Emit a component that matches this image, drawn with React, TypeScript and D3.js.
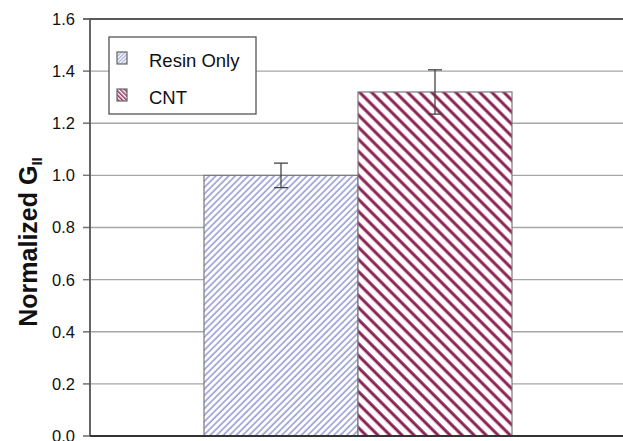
import React from "react";
import * as d3 from "d3";

const categories = ["Resin Only", "CNT"];
const values = [1.0, 1.32];
const errors = [0.047, 0.085];
const yTicks = [0, 0.2, 0.4, 0.6, 0.8, 1.0, 1.2, 1.4, 1.6];

const W = 623, H = 441;
const left = 90, top = 19, bottom = 436, right = 623;

export default function App() {
  const y = d3.scaleLinear().domain([0, 1.6]).range([bottom, top]);
  const x = d3.scaleBand().domain(categories).range([204, 512]).paddingInner(0).paddingOuter(0);
  const patIds = ["patResin", "patCNT"];
  return (
    <svg width={W} height={H} style={{ position: "absolute", left: 0, top: 0, background: "#fff" }}
      fontFamily="Liberation Sans, Arial, sans-serif">
      <defs>
        <pattern id="patResin" patternUnits="userSpaceOnUse" width={4.6} height={10} patternTransform="rotate(45)">
          <rect width={4.6} height={10} fill="#fff" />
          <line x1={1} y1={0} x2={1} y2={10} stroke="#9a9ed6" strokeWidth={1.6} />
        </pattern>
        <pattern id="patCNT" patternUnits="userSpaceOnUse" width={8.5} height={10} patternTransform="rotate(-45)">
          <rect width={8.5} height={10} fill="#fff" />
          <line x1={2} y1={0} x2={2} y2={10} stroke="#8c1f52" strokeWidth={3} />
        </pattern>
        <pattern id="patResinS" patternUnits="userSpaceOnUse" width={2.6} height={10} patternTransform="rotate(45)">
          <rect width={2.6} height={10} fill="#fff" />
          <line x1={0.7} y1={0} x2={0.7} y2={10} stroke="#9a9ed6" strokeWidth={1.1} />
        </pattern>
        <pattern id="patCNTS" patternUnits="userSpaceOnUse" width={3} height={10} patternTransform="rotate(-45)">
          <rect width={3} height={10} fill="#fff" />
          <line x1={0.8} y1={0} x2={0.8} y2={10} stroke="#8c1f52" strokeWidth={1.4} />
        </pattern>
      </defs>
      {/* gridlines */}
      {yTicks.map((t) => (
        <g key={t}>
          <line x1={left - 7} x2={right} y1={y(t)} y2={y(t)}
            stroke={t === 1.6 ? "#222" : "#a6a6a6"} strokeWidth={t === 1.6 ? 1.5 : 1.3} />
          <text x={75} y={y(t)} dy="0.36em" textAnchor="end" fontSize={16.5} fill="#111">{t.toFixed(1)}</text>
        </g>
      ))}
      {/* tick marks over axis */}
      {yTicks.map((t) => (
        <line key={"tk" + t} x1={left - 7} x2={left} y1={y(t)} y2={y(t)} stroke="#777" strokeWidth={1.3} />
      ))}
      {/* bars */}
      {categories.map((c, i) => (
        <rect key={c} x={x(c)!} y={y(values[i])} width={x.bandwidth()} height={y(0) - y(values[i])}
          fill={`url(#${patIds[i]})`} stroke="#7a7a7a" strokeWidth={1.2} />
      ))}
      {/* error bars */}
      {categories.map((c, i) => {
        const cx = x(c)! + x.bandwidth() / 2;
        return (
          <g key={"e" + c} stroke="#444" strokeWidth={1.3}>
            <line x1={cx} x2={cx} y1={y(values[i] + errors[i])} y2={y(values[i] - errors[i])} />
            <line x1={cx - 7} x2={cx + 7} y1={y(values[i] + errors[i])} y2={y(values[i] + errors[i])} />
            <line x1={cx - 7} x2={cx + 7} y1={y(values[i] - errors[i])} y2={y(values[i] - errors[i])} />
          </g>
        );
      })}
      {/* axes */}
      <line x1={left} x2={left} y1={top} y2={bottom} stroke="#555" strokeWidth={1.8} />
      <line x1={left} x2={right} y1={bottom} y2={bottom} stroke="#333" strokeWidth={1.8} />
      {/* legend */}
      <rect x={109} y={37} width={147} height={77} fill="#fff" stroke="#555" strokeWidth={1.3} />
      {categories.map((c, i) => (
        <g key={"lg" + c}>
          <rect x={117} y={52 + i * 37} width={10} height={12} fill={`url(#${i === 0 ? "patResinS" : "patCNTS"})`}
            stroke="#666" strokeWidth={1.2} />
          <text x={149} y={66.5 + i * 37.5} fontSize={18.5} fill="#111">{c}</text>
        </g>
      ))}
      {/* y label */}
      <text transform="translate(36.5,242) rotate(-90)" textAnchor="middle" fontSize={25} fontWeight="bold" fill="#111">
        Normalized G<tspan fontSize={15} dy={5}>II</tspan>
      </text>
    </svg>
  );
}
